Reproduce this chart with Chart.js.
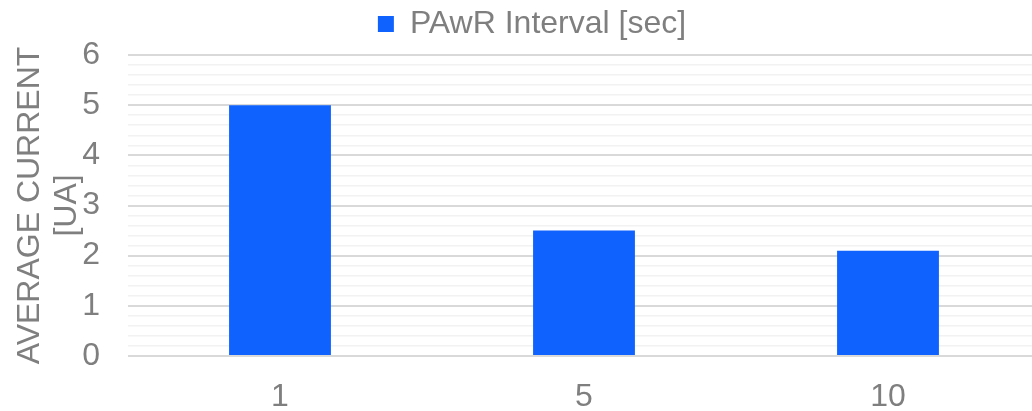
<!DOCTYPE html>
<html>
<head>
<meta charset="utf-8">
<script src="https://cdn.jsdelivr.net/npm/chart.js@4"></script>
<style>
  body { margin: 0; background: #fff; overflow: hidden; }
  .wrap { position: relative; width: 1040px; height: 411px; }
</style>
</head>
<body>
<div class="wrap"><canvas id="bars"></canvas></div>
<script>
// data
const intervals = ["1", "5", "10"];
const avgCurrent = [5, 2.5, 2.1];
const seriesName = "PAwR Interval [sec]";
const axisTitle = ["AVERAGE CURRENT", "[UA]"];

const grey = "#7f7f7f";
const font = "'Liberation Sans', Arial, sans-serif";

const isWhole = (v) => Math.abs(v - Math.round(v)) < 1e-6;

// push the legend a bit right and leave a gap under it
const legendTweak = {
  id: "legendTweak",
  beforeInit(chart) {
    const fit = chart.legend.fit;
    chart.legend.fit = function () {
      fit.bind(chart.legend)();
      this.height += 5;
    };
  },
  afterLayout(chart) {
    chart.legend.left += 12;
    chart.legend.right += 12;
  },
};

new Chart(document.getElementById("bars"), {
  type: "bar",
  data: {
    labels: intervals,
    datasets: [
      {
        label: seriesName,
        data: avgCurrent,
        backgroundColor: "#0F62FE",
        barPercentage: 0.335,
        categoryPercentage: 1,
      },
    ],
  },
  options: {
    responsive: true,
    maintainAspectRatio: false,
    animation: false,
    layout: { padding: 0 },
    plugins: {
      legend: {
        display: true,
        labels: {
          boxWidth: 16,
          boxHeight: 16,
          padding: 8,
          color: grey,
          font: { family: font, size: 32 },
        },
      },
      tooltip: { enabled: false },
    },
    scales: {
      x: {
        grid: { display: false },
        border: { display: false },
        ticks: {
          color: grey,
          padding: 14,
          font: { family: font, size: 32 },
        },
        afterFit(scale) {
          scale.height = 55;
        },
      },
      y: {
        min: 0,
        max: 6,
        border: { display: false },
        grid: {
          drawTicks: false,
          color: (ctx) => (isWhole(ctx.tick.value) ? "#d9d9d9" : "#f2f2f2"),
          lineWidth: (ctx) => (isWhole(ctx.tick.value) ? 2 : 1.5),
        },
        ticks: {
          stepSize: 0.2,
          autoSkip: false,
          padding: 28,
          color: grey,
          font: { family: font, size: 32 },
          callback: (v) => (isWhole(v) ? Math.round(v) : ""),
        },
        title: {
          display: true,
          text: axisTitle,
          color: grey,
          padding: { top: 12, bottom: 0 },
          font: { family: font, size: 32, lineHeight: 1.15 },
        },
        afterFit(scale) {
          scale.width = 128;
        },
      },
    },
  },
  plugins: [legendTweak],
});
</script>
</body>
</html>
